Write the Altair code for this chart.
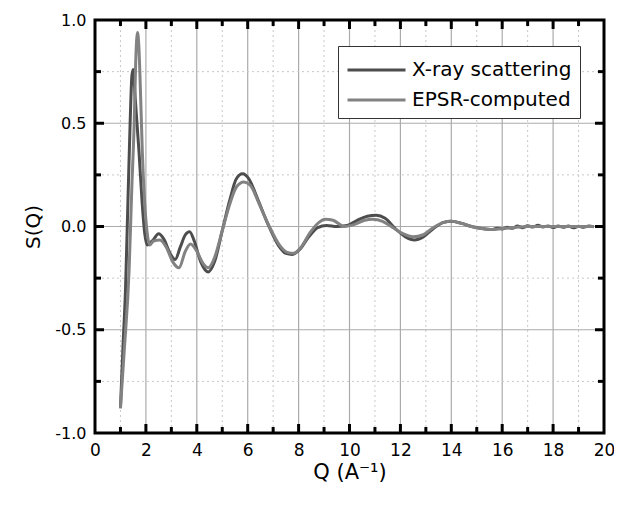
import altair as alt
import pandas as pd

# ---- data ----
xray_q = [1.00, 1.10, 1.20, 1.30, 1.38, 1.45, 1.50, 1.58, 1.73, 1.85, 1.95, 2.05, 2.25,
          2.50, 2.70, 2.95, 3.15, 3.35, 3.55, 3.72, 3.90, 4.15, 4.45, 4.70, 5.00, 5.30,
          5.55, 5.80, 6.05, 6.40, 6.80, 7.20, 7.50, 7.75, 8.05, 8.40, 8.75, 9.10, 9.50,
          9.90, 10.30, 10.70, 11.05, 11.40, 11.80, 12.20, 12.55, 12.90, 13.30, 13.70,
          14.00, 14.40, 14.80, 15.20, 15.60, 15.80, 16.00, 16.20, 16.40, 16.60, 16.80,
          17.00, 17.20, 17.40, 17.60, 17.80, 18.00, 18.20, 18.40, 18.60, 18.80, 19.00,
          19.20, 19.40, 19.60]
xray_s = [-0.88, -0.58, -0.30, 0.15, 0.50, 0.73, 0.76, 0.62, 0.36, 0.12, -0.03, -0.09, -0.07,
          -0.035, -0.06, -0.13, -0.16, -0.10, -0.04, -0.025, -0.07, -0.17, -0.22, -0.17, -0.02, 0.13,
          0.23, 0.255, 0.23, 0.13, 0.01, -0.09, -0.13, -0.135, -0.11, -0.05, -0.005, 0.005, 0.0,
          0.005, 0.03, 0.05, 0.055, 0.04, -0.01, -0.05, -0.065, -0.05, -0.01, 0.02,
          0.025, 0.015, 0.0, -0.01, -0.015, -0.008, -0.012, -0.004, -0.009, 0.002, -0.006,
          0.004, -0.003, 0.006, -0.002, 0.003, -0.005, 0.002, -0.004, 0.003, -0.006, 0.001,
          -0.004, 0.002, -0.002]

epsr_q = [1.00, 1.15, 1.34, 1.45, 1.54, 1.60, 1.67, 1.72, 1.80, 1.86, 1.95, 2.05, 2.15,
          2.30, 2.55, 2.80, 3.05, 3.30, 3.55, 3.75, 4.00, 4.25, 4.45, 4.70, 5.00, 5.30,
          5.55, 5.85, 6.10, 6.45, 6.85, 7.25, 7.55, 7.80, 8.10, 8.45, 8.80, 9.05, 9.35,
          9.80, 10.20, 10.60, 10.90, 11.30, 11.70, 12.10, 12.50, 12.90, 13.30, 13.70,
          14.00, 14.40, 14.80, 15.20, 15.60, 16.00, 16.50, 17.00, 17.50, 18.00, 18.50,
          19.00, 19.60]
epsr_s = [-0.88, -0.60, -0.21, 0.20, 0.50, 0.80, 0.94, 0.88, 0.60, 0.36, 0.12, -0.03, -0.09,
          -0.07, -0.065, -0.10, -0.17, -0.20, -0.12, -0.085, -0.12, -0.18, -0.20, -0.15, -0.02, 0.11,
          0.19, 0.215, 0.20, 0.11, 0.0, -0.09, -0.125, -0.13, -0.10, -0.03, 0.02, 0.035, 0.03,
          0.0, 0.01, 0.03, 0.035, 0.025, -0.005, -0.035, -0.05, -0.04, -0.005, 0.02,
          0.025, 0.015, 0.0, -0.01, -0.015, -0.01, -0.005, 0.0, 0.0, 0.0, 0.0,
          0.0, 0.0]

series_names = ["X-ray scattering", "EPSR-computed"]
series_colors = ["#4d4d4d", "#828282"]

x_major = [2, 4, 6, 8, 10, 12, 14, 16, 18]
x_minor = [1, 3, 5, 7, 9, 11, 13, 15, 17, 19]
x_labels = [0, 2, 4, 6, 8, 10, 12, 14, 16, 18, 20]
y_major = [-0.5, 0.0, 0.5]
y_minor = [-0.75, -0.25, 0.25, 0.75]
y_labels = [-1.0, -0.5, 0.0, 0.5, 1.0]

W, H = 509, 413
LEFT = 87

df = pd.concat([
    pd.DataFrame({"Q": xray_q, "S": xray_s, "series": series_names[0], "order": range(len(xray_q))}),
    pd.DataFrame({"Q": epsr_q, "S": epsr_s, "series": series_names[1], "order": range(len(epsr_q))}),
])

xs = alt.Scale(domain=[0, 20], nice=False, zero=False)
ys = alt.Scale(domain=[-1, 1], nice=False, zero=False)

x_axis = alt.Axis(values=x_labels, title="Q (A⁻¹)", grid=False, ticks=False, domain=False,
                  labelFlush=False,
                  labelFontSize=17, labelPadding=9, labelColor="black", labelFont="DejaVu Sans",
                  titleFontSize=21, titleFont="DejaVu Sans", titleFontWeight="normal",
                  titleColor="black", titleY=45, titleBaseline="alphabetic")
y_axis = alt.Axis(values=y_labels, title="S(Q)", grid=False, ticks=False, domain=False,
                  labelFlush=False,
                  labelExpr="replace(format(datum.value, '.1f'), '\u2212', '-')",
                  labelFontSize=16, labelPadding=9, labelColor="black", labelFont="DejaVu Sans",
                  titleFontSize=20, titleFont="DejaVu Sans", titleFontWeight="normal",
                  titleColor="black", titleX=-62, titleY=H / 2, titleAlign="center",
                  titleBaseline="middle")

def X(f="Q:Q"):
    return alt.X(f, scale=xs, axis=x_axis)

def Y(f="S:Q"):
    return alt.Y(f, scale=ys, axis=y_axis)

def xdf(v):
    return pd.DataFrame({"Q": v})

def ydf(v):
    return pd.DataFrame({"S": v})

grid_x_minor = alt.Chart(xdf(x_minor)).mark_rule(color="#c8c8c8", strokeDash=[2, 3], strokeWidth=1).encode(x=X())
grid_x_major = alt.Chart(xdf(x_major)).mark_rule(color="#ababab", strokeWidth=1.2).encode(x=X())
grid_y_minor = alt.Chart(ydf(y_minor)).mark_rule(color="#c8c8c8", strokeDash=[2, 3], strokeWidth=1).encode(y=Y())
grid_y_major = alt.Chart(ydf(y_major)).mark_rule(color="#ababab", strokeWidth=1.2).encode(y=Y())

lines = alt.Chart(df).mark_line(strokeWidth=3, interpolate="monotone").encode(
    x=X(),
    y=Y(),
    color=alt.Color("series:N", scale=alt.Scale(domain=series_names, range=series_colors),
                    legend=alt.Legend(title=None, orient="none", legendX=243, legendY=26,
                                      symbolType="M-1,0H3", symbolSize=841, symbolStrokeWidth=3,
                                      labelFontSize=20, labelFont="DejaVu Sans", labelColor="black",
                                      strokeColor="#333333", fillColor="white", padding=8,
                                      rowPadding=4, labelOffset=34, labelLimit=400)),
    order="order:Q",
)

# inside tick marks as line segments, lengths in data units (major 9px, minor 6px)
def seg_table():
    rows = []
    for v, L in [(v, 9) for v in x_major] + [(v, 6) for v in x_minor]:
        d = L / H * 2
        rows.append({"x0": v, "x1": v, "y0": -1.0, "y1": -1.0 + d})
        rows.append({"x0": v, "x1": v, "y0": 1.0, "y1": 1.0 - d})
    for v, L in [(v, 9) for v in y_major] + [(v, 6) for v in y_minor]:
        d = L / W * 20
        rows.append({"x0": 0.0, "x1": d, "y0": v, "y1": v})
        rows.append({"x0": 20.0, "x1": 20.0 - d, "y0": v, "y1": v})
    return pd.DataFrame(rows)

ticks = alt.Chart(seg_table()).mark_rule(color="black", strokeWidth=3).encode(
    x=X("x0:Q"), x2="x1:Q", y=Y("y0:Q"), y2="y1:Q")

chart = alt.layer(grid_x_minor, grid_x_major, grid_y_minor, grid_y_major, lines, ticks).properties(
    width=W, height=H,
    autosize=alt.AutoSizeParams(type="none"),
    padding={"left": LEFT, "top": 12, "right": 10, "bottom": 60},
    background="white",
).configure_view(stroke="black", strokeWidth=3)

chart.save("out.html", embed_options={"renderer": "svg", "actions": False})
